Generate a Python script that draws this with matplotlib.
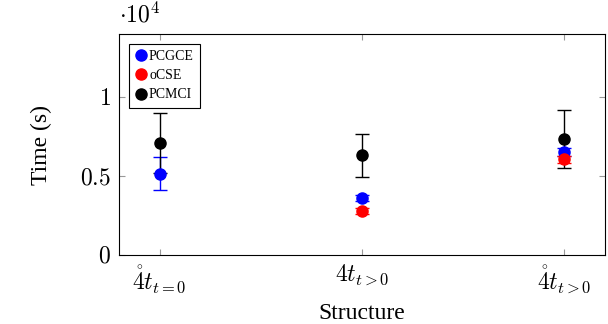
import matplotlib
matplotlib.use("agg")
import matplotlib.pyplot as plt
from matplotlib.lines import Line2D

plt.rcParams["font.family"] = ["Liberation Serif", "DejaVu Serif"]
plt.rcParams["mathtext.fontset"] = "cm"

structures = [r"$\mathring{4}t_{t=0}$", r"$4t_{t>0}$", r"$\mathring{4}t_{t>0}$"]
methods = ["PCGCE", "oCSE", "PCMCI"]
colors = ["#0000ff", "#ff0000", "#000000"]
# mean run time and std (seconds)
pcgce_mean = [5150, 3600, 6550]
pcgce_std = [1050, 200, 250]
ocse_mean = [None, 2800, 6050]
ocse_std = [None, 200, 250]
pcmci_mean = [7100, 6320, 7350]
pcmci_std = [1880, 1350, 1850]

means = [pcgce_mean, ocse_mean, pcmci_mean]
stds = [pcgce_std, ocse_std, pcmci_std]

fig, ax = plt.subplots(figsize=(6.08, 3.24), dpi=100)
fig.subplots_adjust(left=0.196, right=0.995, top=0.895, bottom=0.213)

for name, c, m, s in zip(methods, colors, means, stds):
    xs = [i for i, v in enumerate(m) if v is not None]
    ys = [m[i] for i in xs]
    es = [s[i] for i in xs]
    ax.errorbar(xs, ys, yerr=es, fmt="o", color=c, ecolor=c, markersize=8,
                capsize=5, elinewidth=1, capthick=1)

ax.set_xlim(-0.2, 2.2)
ax.set_ylim(0, 14000)
ax.set_xticks(range(len(structures)))
ax.set_xticklabels(structures, fontsize=17)
ax.set_yticks([0, 5000, 10000])
ax.set_yticklabels(["$0$", "$0.5$", "$1$"], fontsize=17)
ax.tick_params(direction="in", length=4, color="#999999", top=True, right=True, pad=6)
ax.text(0.0, 1.03, r"$\cdot 10^4$", transform=ax.transAxes, fontsize=17, ha="left", va="bottom")
ax.set_xlabel("Structure", fontsize=17, labelpad=6)
ax.set_ylabel("Time (s)", fontsize=17, labelpad=20)

handles = [Line2D([], [], marker="o", linestyle="none", color=c, markersize=8) for c in colors]
leg = ax.legend(handles, methods, loc="upper left", fontsize=10, frameon=True, fancybox=False,
                edgecolor="black", handlelength=0.8, handletextpad=0.2,
                borderpad=0.45, labelspacing=0.45, borderaxespad=0.7, framealpha=1)
leg.get_frame().set_linewidth(0.8)

plt.savefig("out.png", dpi=100)
